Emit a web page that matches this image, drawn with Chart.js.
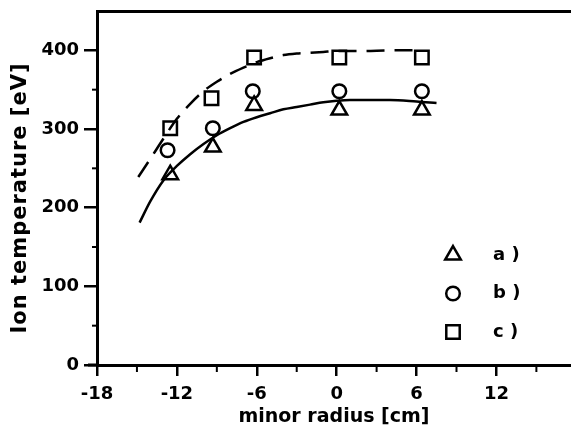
<!DOCTYPE html>
<html>
<head>
<meta charset="utf-8">
<script src="https://cdn.jsdelivr.net/npm/chart.js@4/dist/chart.umd.min.js"></script>
<style>
  html, body { margin: 0; padding: 0; background: #fff; }
  canvas { display: block; }
</style>
</head>
<body>
<canvas id="chart" width="571" height="434"></canvas>
<script>
const radiusA = [-12.5, -9.3, -6.2, 0.2, 6.4];
const tempA = [242, 277, 330, 324, 324];
const radiusB = [-12.7, -9.3, -6.3, 0.2, 6.4];
const tempB = [273, 301, 348, 348, 348];
const radiusC = [-12.5, -9.4, -6.2, 0.2, 6.4];
const tempC = [301, 339, 391, 391, 391];

// hand drawn fit curves (solid = a, dashed = c)
const fitARadius = [-14.8, -14, -13, -12, -11, -10, -9, -8, -7, -6, -5, -4, -3, -2, -1, 0, 1, 2, 4, 6, 7.5];
const fitATemp = [181, 208, 235, 253, 268, 281, 292, 301, 309, 315, 320, 325, 328, 331, 334, 336, 337, 337, 337, 335, 333];
const fitCRadius = [-14.9, -14, -13, -12, -11, -10, -9, -8, -7, -6, -5, -4, -3, -2, -1, 0, 2, 4, 6.4];
const fitCTemp = [239, 262, 288, 313, 332, 348, 360, 370, 378, 385, 390, 394, 396, 397, 398, 399, 399, 400, 400];

const xTicks = [-18, -12, -6, 0, 6, 12];
const xMinor = [-15, -9, -3, 3, 9, 15];
const yTicks = [0, 100, 200, 300, 400];
const yMinor = [50, 150, 250, 350];
const legendLabels = ['a )', 'b )', 'c )'];
const legendStyles = ['triangle', 'circle', 'rect'];
const legendRadius = [9, 6.8, 9.5];

const FONT = { family: 'DejaVu Sans', weight: 'bold', size: 18 };

function pts(xs, ys) {
    return xs.map((x, i) => ({ x: x, y: ys[i] }));
}

// keep the plot box flush with the edges like the original
function noPad(s) {
    s.paddingLeft = 0;
    s.paddingRight = 0;
    s.paddingTop = 0;
    s.paddingBottom = 0;
}

// minor ticks, y title and the in-plot key
const extras = {
    id: 'extras',
    afterDraw(chart) {
        const { ctx, chartArea } = chart;
        const x = chart.scales.x;
        const y = chart.scales.y;
        ctx.save();
        ctx.strokeStyle = '#000';
        ctx.lineWidth = 2;
        xMinor.forEach(v => {
            const px = x.getPixelForValue(v);
            ctx.beginPath();
            ctx.moveTo(px, chartArea.bottom);
            ctx.lineTo(px, chartArea.bottom + 7);
            ctx.stroke();
        });
        yMinor.forEach(v => {
            const py = y.getPixelForValue(v);
            ctx.beginPath();
            ctx.moveTo(chartArea.left, py);
            ctx.lineTo(chartArea.left - 5, py);
            ctx.stroke();
        });
        // bottom axis line pokes out a little left of the y axis
        ctx.lineWidth = 3;
        ctx.beginPath();
        ctx.moveTo(chartArea.left - 9, chartArea.bottom);
        ctx.lineTo(chartArea.left, chartArea.bottom);
        ctx.stroke();

        // y axis title
        ctx.fillStyle = '#000';
        ctx.font = 'bold 21px "DejaVu Sans"';
        ctx.letterSpacing = '1px';
        ctx.textAlign = 'center';
        ctx.textBaseline = 'middle';
        ctx.translate(21, 198);
        ctx.rotate(-Math.PI / 2);
        ctx.fillText('Ion temperature [eV]', 0, 0);
        ctx.setTransform(1, 0, 0, 1, 0, 0);
        ctx.letterSpacing = '0px';

        // key
        ctx.font = 'bold 18px "DejaVu Sans"';
        ctx.lineWidth = 2.5;
        ctx.textAlign = 'left';
        legendLabels.forEach((label, i) => {
            const lx = chartArea.left + 356;
            const ly = chartArea.top + 244 + i * 38.5;
            ctx.fillStyle = '#fff';
            Chart.helpers.drawPoint(ctx, { pointStyle: legendStyles[i], radius: legendRadius[i], borderWidth: 2.5, rotation: 0 }, lx, ly);
            ctx.fillStyle = '#000';
            ctx.fillText(label, lx + 40, ly);
        });
        ctx.restore();
    }
};

const markerBase = {
    showLine: false,
    borderColor: '#000',
    backgroundColor: '#fff',
    pointBorderWidth: 2.5
};

new Chart(document.getElementById('chart'), {
    type: 'scatter',
    data: {
        datasets: [
            {
                label: 'fit a',
                data: pts(fitARadius, fitATemp),
                showLine: true,
                borderColor: '#000',
                borderWidth: 2.5,
                pointRadius: 0,
                cubicInterpolationMode: 'monotone'
            },
            {
                label: 'fit c',
                data: pts(fitCRadius, fitCTemp),
                showLine: true,
                borderColor: '#000',
                borderWidth: 2.5,
                borderDash: [18, 10],
                pointRadius: 0,
                cubicInterpolationMode: 'monotone'
            },
            Object.assign({ label: 'a)', data: pts(radiusA, tempA), pointStyle: 'triangle', pointRadius: 9 }, markerBase),
            Object.assign({ label: 'b)', data: pts(radiusB, tempB), pointStyle: 'circle', pointRadius: 6.8 }, markerBase),
            Object.assign({ label: 'c)', data: pts(radiusC, tempC), pointStyle: 'rect', pointRadius: 9.5 }, markerBase)
        ]
    },
    options: {
        responsive: false,
        animation: false,
        layout: { padding: 0, autoPadding: false },
        plugins: {
            legend: { display: false },
            tooltip: { enabled: false }
        },
        scales: {
            x: {
                type: 'linear',
                position: 'bottom',
                min: -18,
                max: 17.6,
                afterBuildTicks: s => { s.ticks = xTicks.map(v => ({ value: v })); },
                afterFit: s => { s.height = 69; noPad(s); },
                border: { display: true, color: '#000', width: 3 },
                grid: { drawOnChartArea: false, color: '#000', lineWidth: 2.5, tickLength: 11 },
                ticks: { color: '#000', font: FONT, padding: 8, maxRotation: 0 },
                title: { display: true, text: 'minor radius [cm]', color: '#000', font: { family: 'DejaVu Sans', weight: 'bold', size: 19 }, padding: { top: 0, bottom: 6 } }
            },
            x2: {
                type: 'linear',
                position: 'top',
                min: -18,
                max: 17.6,
                afterBuildTicks: s => { s.ticks = xTicks.map(v => ({ value: v })); },
                afterFit: s => { s.height = 11; noPad(s); },
                border: { display: true, color: '#000', width: 3 },
                grid: { display: false },
                ticks: { display: false }
            },
            y: {
                type: 'linear',
                min: 0,
                max: 450,
                afterBuildTicks: s => { s.ticks = yTicks.map(v => ({ value: v })); },
                afterFit: s => { s.width = 97; noPad(s); },
                border: { display: true, color: '#000', width: 3 },
                grid: { drawOnChartArea: false, color: '#000', lineWidth: 2.5, tickLength: 13 },
                ticks: { color: '#000', font: FONT, padding: 5 }
            }
        }
    },
    plugins: [extras]
});
</script>
</body>
</html>
